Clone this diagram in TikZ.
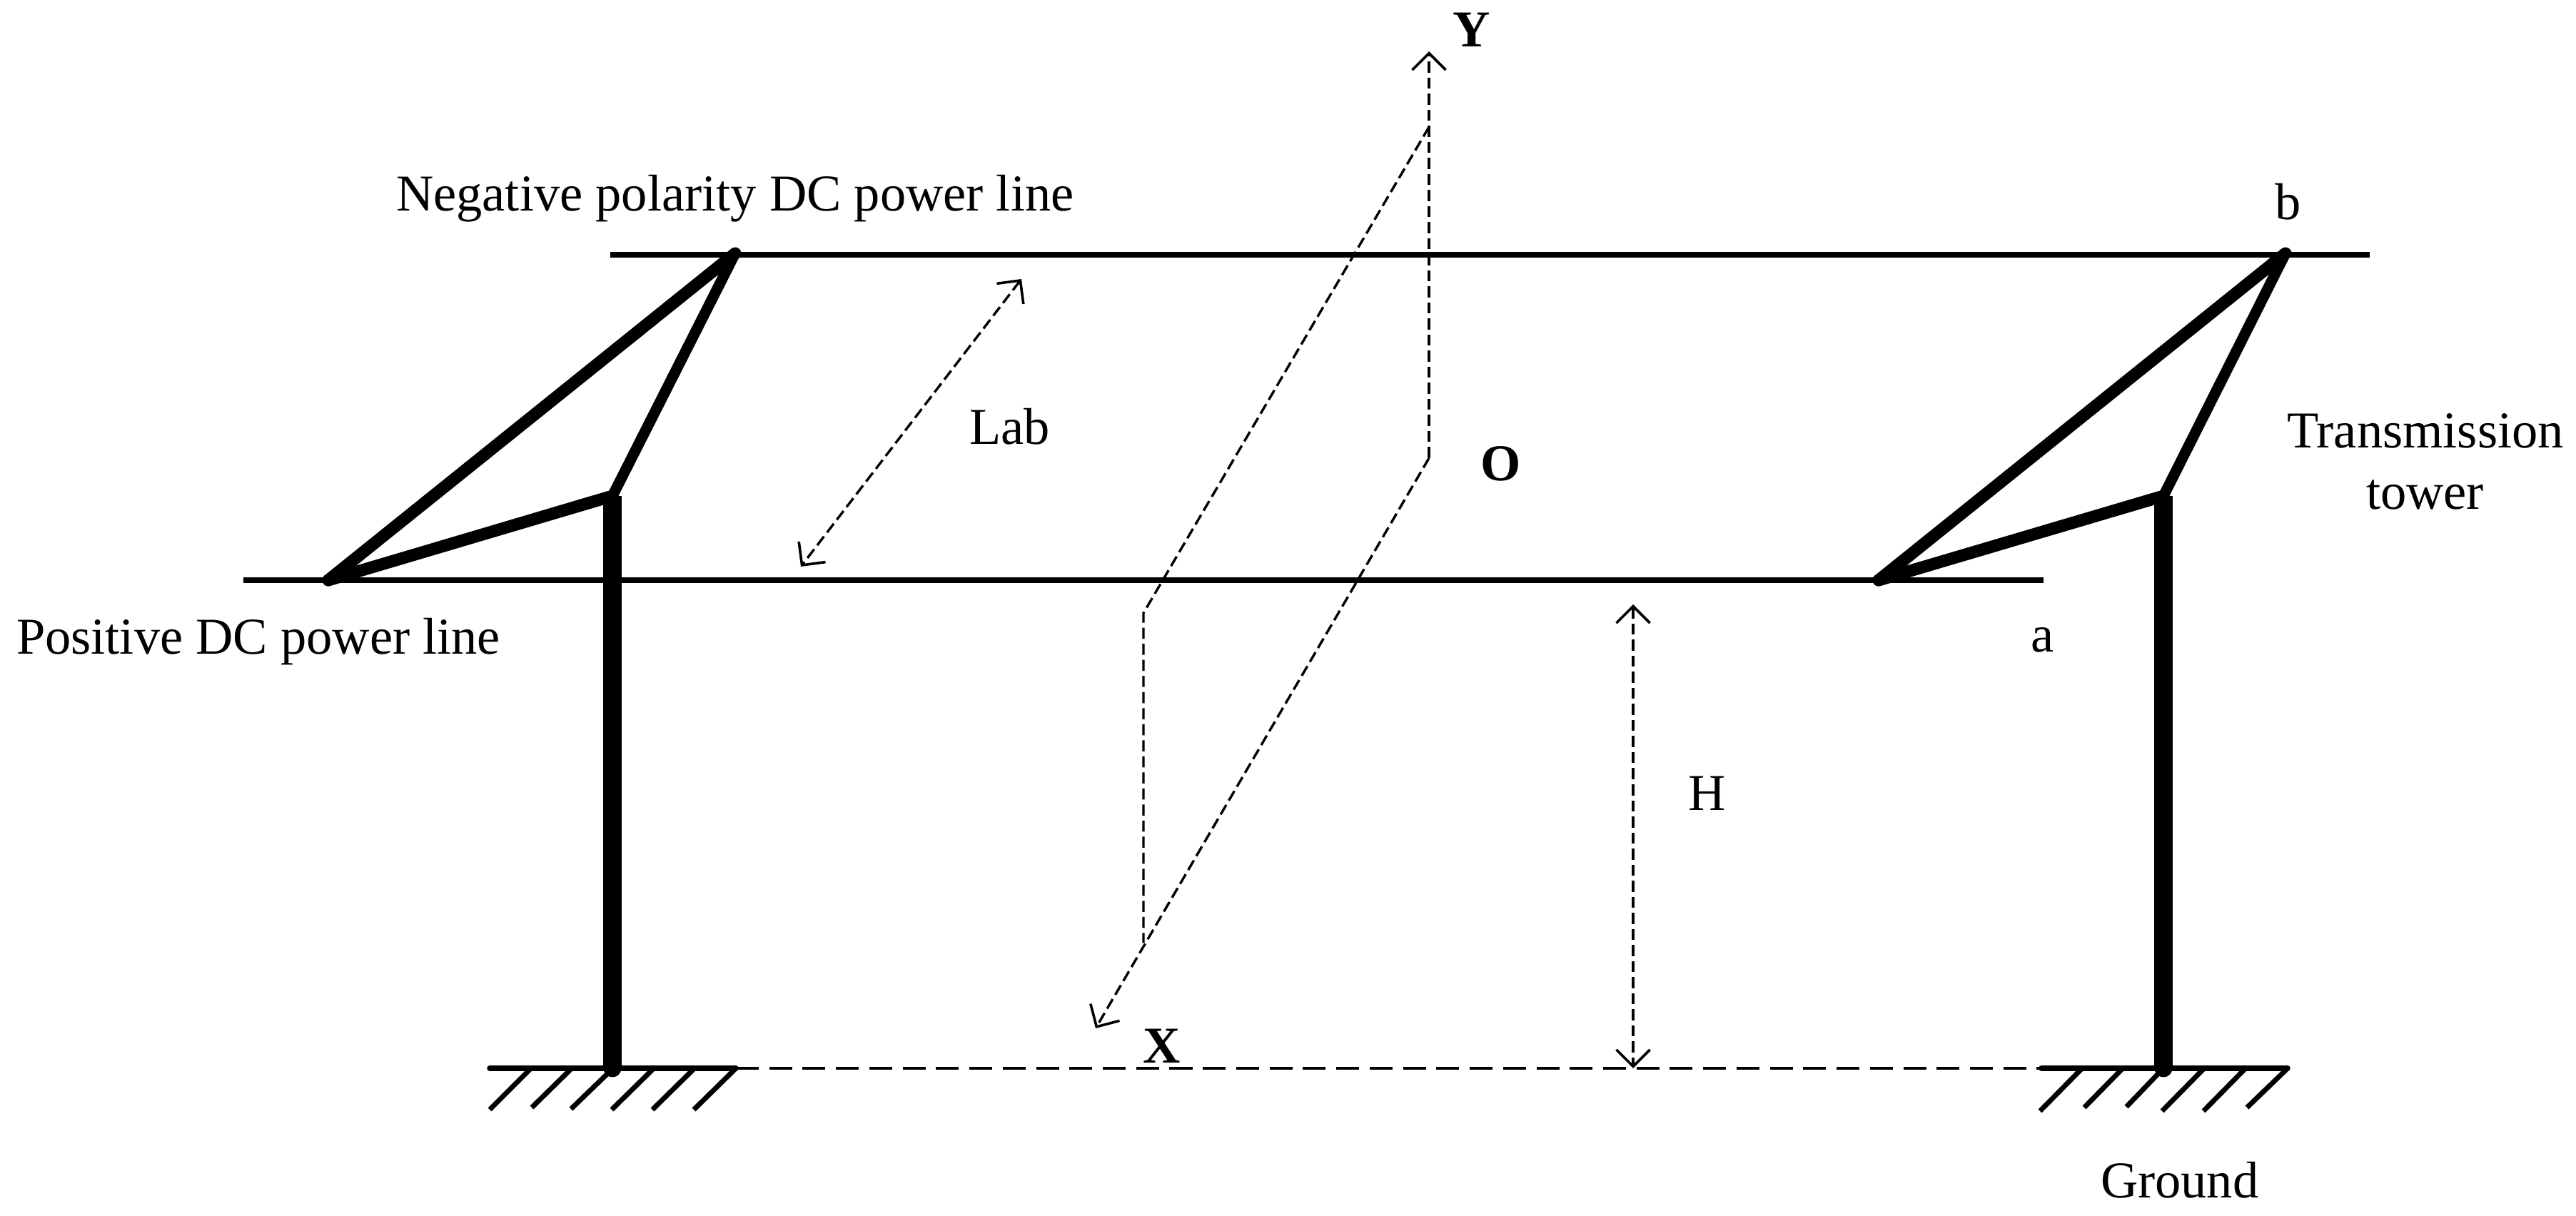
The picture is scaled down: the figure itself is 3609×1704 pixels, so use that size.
\documentclass[tikz,border=0pt]{standalone}
\usepackage{fontspec}
\setmainfont{Liberation Serif}
\usetikzlibrary{arrows.meta}
\tikzset{
  lbl/.style={inner sep=0pt,outer sep=0pt,anchor=base west,font=\fontsize{20.6pt}{24pt}\selectfont},
  blbl/.style={lbl,font=\fontsize{20.6pt}{24pt}\selectfont\bfseries},
  wire/.style={line width=0.074cm},
  pole/.style={line width=0.265cm},
  brace/.style={line width=0.17cm,line cap=round},
  hatch/.style={line width=0.07cm},
  groundline/.style={line width=0.074cm,line cap=round},
  thindash/.style={line width=0.034cm,dash pattern=on 0.155cm off 0.07cm},
  grounddash/.style={line width=0.038cm,dash pattern=on 0.32cm off 0.147cm},
  axis/.style={-{Straight Barb[length=0.235cm,width=0.47cm,line width=0.036cm]}},
  bothaxis/.style={{Straight Barb[length=0.235cm,width=0.47cm,line width=0.036cm]}-{Straight Barb[length=0.235cm,width=0.47cm,line width=0.036cm]}}
}
\begin{document}
\begin{tikzpicture}[x=0.01cm,y=-0.01cm]
\useasboundingbox (0,0) rectangle (3609,1704);
% power lines
\coordinate (tl) at (855,357);
\coordinate (tr) at (3320,357);
\coordinate (bl) at (341,813);
\coordinate (br) at (2863,813);
\draw[wire] (tl) -- (tr);
\draw[wire] (bl) -- (br);
% left tower
\coordinate (La) at (1030,355);
\coordinate (Lk) at (858,695);
\coordinate (Ll) at (460,813);
\coordinate (Lg) at (858,1497);
\draw[pole] (Lk) -- (Lg);
\fill (Lg) circle (0.125cm);
\draw[brace] (La) -- (Ll);
\draw[brace] (Ll) -- (Lk);
\draw[brace,line width=0.15cm] (Lk) -- (La);
% right tower
\coordinate (Ra) at (3202,355);
\coordinate (Rk) at (3031,695);
\coordinate (Rl) at (2632,813);
\coordinate (Rg) at (3031,1497);
\draw[pole] (Rk) -- (Rg);
\fill (Rg) circle (0.125cm);
\draw[brace] (Ra) -- (Rl);
\draw[brace] (Rl) -- (Rk);
\draw[brace,line width=0.15cm] (Rk) -- (Ra);
% ground
\coordinate (g1) at (686,1497);
\coordinate (g2) at (1031,1497);
\coordinate (g3) at (2860,1497);
\coordinate (g4) at (3205,1497);
\draw[groundline] (g1) -- (g2);
\draw[groundline] (g3) -- (g4);
\draw[grounddash] (g2) -- (g3);
\foreach \xa/\xb/\yb in {744/686/1555,801/745/1552,859/800/1554,916/857/1555,973/914/1555,1031/972/1555}
  \draw[hatch] (\xa,1497) -- (\xb,\yb);
\foreach \xa/\xb/\yb in {2917/2858/1557,2974/2920/1552,3031/2979/1551,3088/3029/1557,3146/3087/1557,3205/3148/1552}
  \draw[hatch] (\xa,1497) -- (\xb,\yb);
% axes
\coordinate (Ytip) at (2002,72);
\coordinate (A) at (2002,178);
\coordinate (B) at (2002,642);
\coordinate (C) at (1602,859);
\coordinate (D) at (1602,1321);
\coordinate (Xtip) at (1535,1441);
\draw[thindash,axis] (B) -- (Ytip);
\draw[thindash] (A) -- (C) -- (D);
\draw[thindash,axis] (B) -- (Xtip);
% dimensions
\coordinate (Lab1) at (1431,391);
\coordinate (Lab2) at (1122,794);
\coordinate (H1) at (2288,847);
\coordinate (H2) at (2288,1497);
\draw[thindash,bothaxis] (Lab1) -- (Lab2);
\draw[thindash,bothaxis] (H1) -- (H2);
% labels
\node[lbl] (neg) at (555,296) {Negative polarity DC power line};
\node[lbl] (pos) at (23,917) {Positive DC power line};
\node[lbl] (lab) at (1358,623) {Lab};
\node[lbl] (h) at (2365,1135) {H};
\node[lbl] (a) at (2845,913) {a};
\node[lbl] (b) at (3187,308) {b};
\node[lbl] (tr1) at (3204,628) {Transmission};
\node[lbl] (tr2) at (3315,714) {tower};
\node[lbl] (gnd) at (2943,1678) {Ground};
\node[blbl] (y) at (2035,66) {Y};
\node[blbl] (o) at (2074,674) {O};
\node[blbl] (x) at (1601,1489) {X};
\end{tikzpicture}
\end{document}
